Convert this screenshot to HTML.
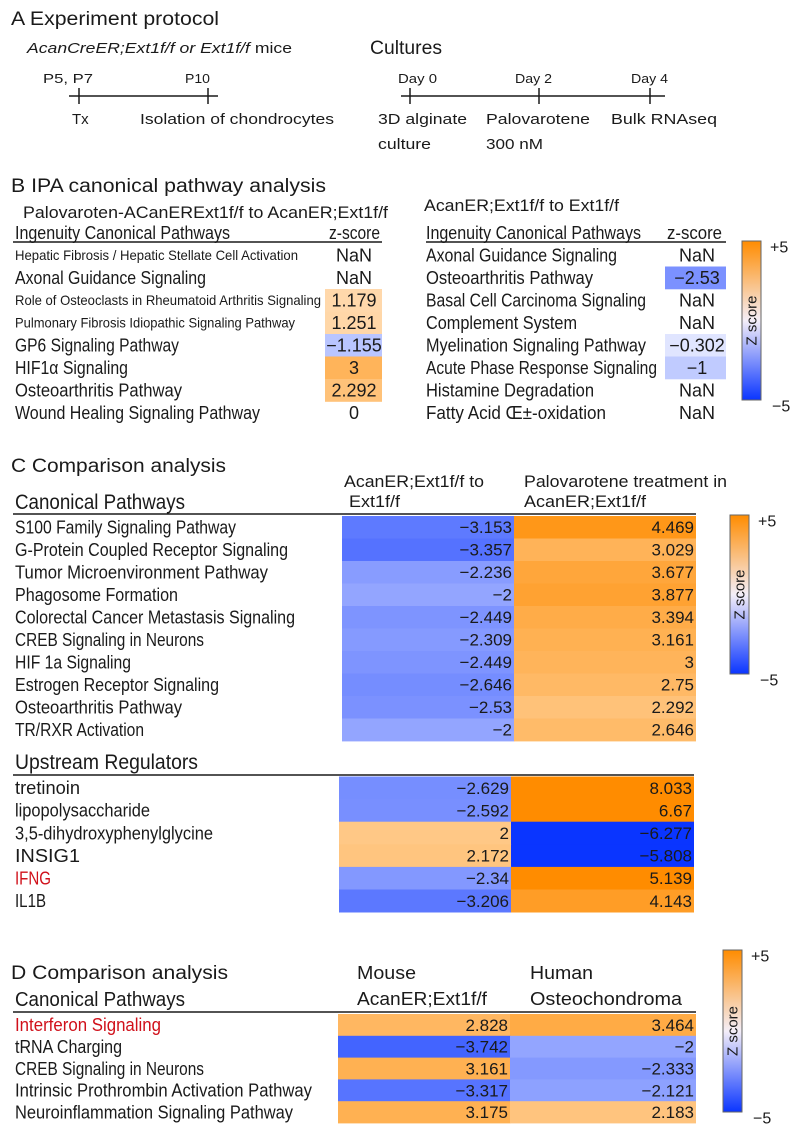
<!DOCTYPE html>
<html><head><meta charset="utf-8"><style>
html,body{margin:0;padding:0;background:#fff;}
svg{display:block;font-family:"Liberation Sans",sans-serif;}
</style></head><body>
<svg id="fig" width="791" height="1133" viewBox="0 0 791 1133" xmlns="http://www.w3.org/2000/svg">
<defs>
<linearGradient id="cbar" x1="0" y1="0" x2="0" y2="1">
<stop offset="0" stop-color="#ff8c00"/><stop offset="0.5" stop-color="#f4eef8"/><stop offset="1" stop-color="#0a35ff"/>
</linearGradient>
</defs>
<g fill="#1a1a1a">
<text x="11" y="25" font-size="19" textLength="208" lengthAdjust="spacingAndGlyphs">A Experiment protocol</text>
<text x="27" y="53" font-size="15" textLength="265" lengthAdjust="spacingAndGlyphs"><tspan font-style="italic">AcanCreER;Ext1f/f or Ext1f/f</tspan> mice</text>
<text x="370" y="54" font-size="19" textLength="72" lengthAdjust="spacingAndGlyphs">Cultures</text>
<g stroke="#1a1a1a" stroke-width="1.5">
<line x1="69" y1="96" x2="218" y2="96"/><line x1="79" y1="88" x2="79" y2="104"/><line x1="208" y1="88" x2="208" y2="104"/>
</g>
<g stroke="#1a1a1a" stroke-width="1.5">
<line x1="401" y1="96" x2="665" y2="96"/><line x1="410" y1="88" x2="410" y2="104"/><line x1="539" y1="88" x2="539" y2="104"/><line x1="650" y1="88" x2="650" y2="104"/>
</g>
<g font-size="13">
<text x="43" y="83" textLength="50" lengthAdjust="spacingAndGlyphs">P5, P7</text>
<text x="185" y="83" textLength="25" lengthAdjust="spacingAndGlyphs">P10</text>
<text x="398" y="83" textLength="39" lengthAdjust="spacingAndGlyphs">Day 0</text>
<text x="515" y="83" textLength="37" lengthAdjust="spacingAndGlyphs">Day 2</text>
<text x="631" y="83" textLength="37" lengthAdjust="spacingAndGlyphs">Day 4</text>
</g>
<g font-size="15">
<text x="72" y="124">Tx</text>
<text x="140" y="124" textLength="194" lengthAdjust="spacingAndGlyphs">Isolation of chondrocytes</text>
<text x="378" y="124" textLength="89" lengthAdjust="spacingAndGlyphs">3D alginate</text>
<text x="378" y="149" textLength="53" lengthAdjust="spacingAndGlyphs">culture</text>
<text x="486" y="124" textLength="104" lengthAdjust="spacingAndGlyphs">Palovarotene</text>
<text x="486" y="149" textLength="57" lengthAdjust="spacingAndGlyphs">300 nM</text>
<text x="611" y="124" textLength="106" lengthAdjust="spacingAndGlyphs">Bulk RNAseq</text>
</g>
</g>
<g id="panelB" fill="#1a1a1a">
<text x="11" y="192" font-size="19" textLength="315" lengthAdjust="spacingAndGlyphs">B IPA canonical pathway analysis</text>
<text x="23" y="218" font-size="17" textLength="365" lengthAdjust="spacingAndGlyphs">Palovaroten-ACanERExt1f/f to AcanER;Ext1f/f</text>
<text x="424" y="211" font-size="17" textLength="195" lengthAdjust="spacingAndGlyphs">AcanER;Ext1f/f to Ext1f/f</text>
<text x="15" y="239" font-size="18" textLength="215" lengthAdjust="spacingAndGlyphs">Ingenuity Canonical Pathways</text>
<text x="329" y="239" font-size="18" textLength="51" lengthAdjust="spacingAndGlyphs">z-score</text>
<text x="426" y="239" font-size="18" textLength="215" lengthAdjust="spacingAndGlyphs">Ingenuity Canonical Pathways</text>
<text x="667" y="239" font-size="18" textLength="55" lengthAdjust="spacingAndGlyphs">z-score</text>
<line x1="13" y1="242" x2="382" y2="242" stroke="#1a1a1a" stroke-width="1.5"/>
<line x1="426" y1="242" x2="726" y2="242" stroke="#1a1a1a" stroke-width="1.5"/>
</g>
<g id="panelC" fill="#1a1a1a">
<text x="11" y="472" font-size="19" textLength="215" lengthAdjust="spacingAndGlyphs">C Comparison analysis</text>
<text x="344" y="487" font-size="17" textLength="140" lengthAdjust="spacingAndGlyphs">AcanER;Ext1f/f to</text>
<text x="349" y="507" font-size="17" textLength="51" lengthAdjust="spacingAndGlyphs">Ext1f/f</text>
<text x="524" y="487" font-size="17" textLength="203" lengthAdjust="spacingAndGlyphs">Palovarotene treatment in</text>
<text x="524" y="507" font-size="17" textLength="122" lengthAdjust="spacingAndGlyphs">AcanER;Ext1f/f</text>
<text x="15" y="509" font-size="21" textLength="170" lengthAdjust="spacingAndGlyphs">Canonical Pathways</text>
<line x1="13" y1="514" x2="696" y2="514" stroke="#1a1a1a" stroke-width="1.5"/>
<text x="15" y="769" font-size="21" textLength="183" lengthAdjust="spacingAndGlyphs">Upstream Regulators</text>
<line x1="13" y1="775" x2="694" y2="775" stroke="#1a1a1a" stroke-width="1.5"/>
</g>
<g id="panelD" fill="#1a1a1a">
<text x="11" y="979" font-size="19" textLength="217" lengthAdjust="spacingAndGlyphs">D Comparison analysis</text>
<text x="357" y="979" font-size="18" textLength="59" lengthAdjust="spacingAndGlyphs">Mouse</text>
<text x="357" y="1005" font-size="18" textLength="130" lengthAdjust="spacingAndGlyphs">AcanER;Ext1f/f</text>
<text x="530" y="979" font-size="18" textLength="63" lengthAdjust="spacingAndGlyphs">Human</text>
<text x="530" y="1005" font-size="18" textLength="152" lengthAdjust="spacingAndGlyphs">Osteochondroma</text>
<text x="15" y="1006" font-size="20" textLength="170" lengthAdjust="spacingAndGlyphs">Canonical Pathways</text>
<line x1="13" y1="1012" x2="696" y2="1012" stroke="#1a1a1a" stroke-width="1.5"/>
</g>
<g id="bars"></g>
</svg>
<script>
// ---- Panel B data ----
const bLeftNames = ["Hepatic Fibrosis / Hepatic Stellate Cell Activation","Axonal Guidance Signaling","Role of Osteoclasts in Rheumatoid Arthritis Signaling","Pulmonary Fibrosis Idiopathic Signaling Pathway","GP6 Signaling Pathway","HIF1\u03b1 Signaling","Osteoarthritis Pathway","Wound Healing Signaling Pathway"];
const bLeftZ = [NaN, NaN, 1.179, 1.251, -1.155, 3, 2.292, 0];
const bRightNames = ["Axonal Guidance Signaling","Osteoarthritis Pathway","Basal Cell Carcinoma Signaling","Complement System","Myelination  Signaling Pathway","Acute Phase Response Signaling","Histamine Degradation","Fatty  Acid \u0152\u00b1-oxidation"];
const bRightZ = [NaN, -2.53, NaN, NaN, -0.302, -1, NaN, NaN];
// ---- Panel C data ----
const cPathNames = ["S100 Family Signaling Pathway","G-Protein Coupled Receptor Signaling","Tumor Microenvironment Pathway","Phagosome Formation","Colorectal Cancer Metastasis Signaling","CREB Signaling in Neurons","HIF 1a Signaling","Estrogen Receptor Signaling","Osteoarthritis Pathway","TR/RXR Activation"];
const cPathCol1 = [-3.153, -3.357, -2.236, -2, -2.449, -2.309, -2.449, -2.646, -2.53, -2];
const cPathCol2 = [4.469, 3.029, 3.677, 3.877, 3.394, 3.161, 3, 2.75, 2.292, 2.646];
const cUpNames = ["tretinoin","lipopolysaccharide","3,5-dihydroxyphenylglycine","INSIG1","IFNG","IL1B"];
const cUpCol1 = [-2.629, -2.592, 2, 2.172, -2.34, -3.206];
const cUpCol2 = [8.033, 6.67, -6.277, -5.808, 5.139, 4.143];
// ---- Panel D data ----
const dNames = ["Interferon Signaling","tRNA Charging","CREB Signaling in Neurons","Intrinsic Prothrombin Activation Pathway","Neuroinflammation Signaling Pathway"];
const dMouse = [2.828, -3.742, 3.161, -3.317, 3.175];
const dHuman = [3.464, -2, -2.333, -2.121, 2.183];

const NS = "http://www.w3.org/2000/svg";
function mk(tag, attrs, parent) {
  const e = document.createElementNS(NS, tag);
  for (const k in attrs) e.setAttribute(k, attrs[k]);
  parent.appendChild(e);
  return e;
}
function zColor(z) {
  if (isNaN(z) || z === 0) return "none";
  const t = Math.min(1, Math.abs(z) / 5);
  let r, g, b;
  if (z > 0) { r = 255; g = 240 - t * 100; b = 224 - t * 224; }
  else { r = 238 - t * 228; g = 240 - t * 187; b = 255; }
  return "rgb(" + Math.round(r) + "," + Math.round(g) + "," + Math.round(b) + ")";
}
function fmt(z) { return isNaN(z) ? "NaN" : String(z).replace("-", "\u2212"); }
function label(parent, x, yc, str, size, width, color) {
  const a = { x: x, y: yc + size * 0.35, "font-size": size, fill: color || "#1a1a1a" };
  if (width) { a.textLength = width; a.lengthAdjust = "spacingAndGlyphs"; }
  const t = mk("text", a, parent);
  t.textContent = str;
  return t;
}
const gB = document.getElementById("panelB");
const gC = document.getElementById("panelC");
const gD = document.getElementById("panelD");

// Panel B tables
const bLeftEnds = [298, 206, 321, 295, 179, 128, 182, 260];
const bLeftSizes = [14, 18, 14, 14, 18, 18, 18, 18];
const bRightEnds = [617, 593, 646, 577, 646, 657, 594, 606];
const bTop = 244, bH = 22.5;
bLeftNames.forEach((n, i) => {
  const y = bTop + i * bH;
  const c = zColor(bLeftZ[i]);
  if (c !== "none") {
    const r = mk("rect", { x: 325, y: y, width: 57, height: bH + 0.3, fill: c }, gB);
    
    
  }
  const t = label(gB, 15, y + bH / 2, n, bLeftSizes[i], bLeftEnds[i] - 15);
  
  
  const v = label(gB, 354, y + bH / 2, fmt(bLeftZ[i]), 18);
  v.setAttribute("text-anchor", "middle");
  
  
});
bRightNames.forEach((n, i) => {
  const y = bTop + i * bH;
  const c = zColor(bRightZ[i]);
  if (c !== "none") {
    const r = mk("rect", { x: 665, y: y, width: 61, height: bH + 0.3, fill: c }, gB);
    
    
  }
  const t = label(gB, 426, y + bH / 2, n, 18, bRightEnds[i] - 426);
  
  
  const v = label(gB, 697, y + bH / 2, fmt(bRightZ[i]), 18);
  v.setAttribute("text-anchor", "middle");
  
  
});

// Generic two-column heatmap
function heat(parent, names, c1, c2, top, h, x0, x1, x2, ends, reds, size, prefix) {
  names.forEach((n, i) => {
    const y = top + i * h;
    const r1 = mk("rect", { x: x0, y: y, width: x1 - x0 + 0.5, height: h + 0.4, fill: zColor(c1[i]) === "none" ? "#fff" : zColor(c1[i]) }, parent);
    
    
    const r2 = mk("rect", { x: x1, y: y, width: x2 - x1, height: h + 0.4, fill: zColor(c2[i]) === "none" ? "#fff" : zColor(c2[i]) }, parent);
    
    
    const t = label(parent, 15, y + h / 2, n, size, ends[i] - 15, reds.indexOf(i) >= 0 ? "#d0101a" : "#1a1a1a");
    
    
    const v1 = label(parent, x1 - 2, y + h / 2, fmt(c1[i]), 17);
    v1.setAttribute("text-anchor", "end");
    
    
    const v2 = label(parent, x2 - 2, y + h / 2, fmt(c2[i]), 17);
    v2.setAttribute("text-anchor", "end");
    
    
  });
}
heat(gC, cPathNames, cPathCol1, cPathCol2, 516, 22.5, 342, 514, 696, [236, 288, 268, 178, 295, 204, 131, 219, 182, 144], [], 18, "c-pathway");
heat(gC, cUpNames, cUpCol1, cUpCol2, 776.5, 22.6, 339, 511, 694, [80, 150, 213, 80, 51, 46], [4], 18, "c-upstream");
heat(gD, dNames, dMouse, dHuman, 1014, 21.8, 338, 510, 696, [161, 122, 204, 312, 293], [0], 18, "d-pathway");

// Colorbars
const gBars = document.getElementById("bars");
function cbar(x, y0, y1, name) {
  const r = mk("rect", { x: x, y: y0, width: 19, height: y1 - y0, fill: "url(#cbar)", stroke: "#666", "stroke-width": 1 }, gBars);
  
  
  const p = label(gBars, x + 28, y0 + 6, "+5", 16);
  
  
  const m = label(gBars, x + 30, y1 + 6, "\u22125", 16);
  
  
  const cy = (y0 + y1) / 2;
  const z = mk("text", { x: x + 9.5, y: cy, "font-size": 15, "text-anchor": "middle", fill: "#1a1a1a", transform: "rotate(-90 " + (x + 9.5) + " " + cy + ") translate(0 5)" }, gBars);
  z.textContent = "Z score";
  
  
}
cbar(742, 241, 400, "b-colorbar");
cbar(730, 515, 674, "c-colorbar");
cbar(723, 950, 1112, "d-colorbar");
</script>
</body></html>
